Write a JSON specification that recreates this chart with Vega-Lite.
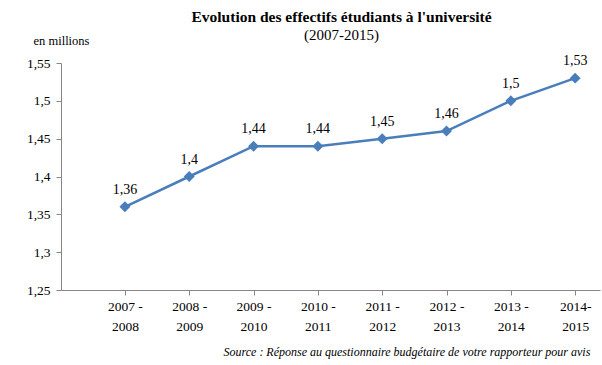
{
  "$schema": "https://vega.github.io/schema/vega-lite/v6.json",
  "width": 539,
  "height": 227,
  "autosize": {"type": "none"},
  "padding": {"left": 61, "top": 63, "right": 2, "bottom": 75},
  "background": "white",
  "config": {
    "locale": {"number": {"decimal": ",", "thousands": " ", "grouping": [3], "currency": ["", " €"]}},
    "view": {"stroke": null},
    "font": "Liberation Serif"
  },
  "title": {
    "text": "Evolution des effectifs étudiants à l'université",
    "subtitle": "(2007-2015)",
    "font": "Liberation Serif",
    "fontSize": 15.5,
    "fontWeight": "bold",
    "subtitleFont": "Liberation Serif",
    "subtitleFontSize": 15,
    "subtitlePadding": 3,
    "color": "#000000",
    "subtitleColor": "#000000",
    "anchor": "middle",
    "dx": 11,
    "offset": -9
  },
  "data": {
    "values": [
      {"period": "2007 - 2008", "value": 1.36},
      {"period": "2008 - 2009", "value": 1.40},
      {"period": "2009 - 2010", "value": 1.44},
      {"period": "2010 - 2011", "value": 1.44},
      {"period": "2011 - 2012", "value": 1.45},
      {"period": "2012 - 2013", "value": 1.46},
      {"period": "2013 - 2014", "value": 1.50},
      {"period": "2014-2015", "value": 1.53}
    ]
  },
  "encoding": {
    "x": {
      "field": "period",
      "type": "ordinal",
      "sort": null,
      "scale": {"type": "point", "padding": 0.69, "align": 0.72},
      "axis": {
        "title": "Source : Réponse au questionnaire budgétaire de votre rapporteur pour avis",
        "titleFont": "Liberation Serif",
        "titleFontStyle": "italic",
        "titleFontWeight": "normal",
        "titleFontSize": 12,
        "titleColor": "#000000",
        "titleAnchor": "start",
        "titleAlign": "left",
        "titleX": 162,
        "titleY": 56,
        "labelAngle": 0,
        "labelExpr": "split(replace(datum.value, /-\\s?/, '-|'), '|')",
        "labelFont": "Liberation Serif",
        "labelFontSize": 13.5,
        "labelColor": "#000000",
        "labelLineHeight": 20,
        "labelPadding": 4,
        "domainColor": "#868686",
        "domainWidth": 1,
        "tickColor": "#868686",
        "tickSize": 5
      }
    },
    "y": {
      "field": "value",
      "type": "quantitative",
      "scale": {"domain": [1.25, 1.55], "nice": false, "zero": false},
      "axis": {
        "title": "en millions",
        "titleAngle": 0,
        "titleAlign": "center",
        "titleBaseline": "bottom",
        "titleX": 0,
        "titleY": -16,
        "titleFont": "Liberation Serif",
        "titleFontWeight": "normal",
        "titleFontSize": 12.5,
        "titleColor": "#000000",
        "values": [1.25, 1.3, 1.35, 1.4, 1.45, 1.5, 1.55],
        "format": ".2~f",
        "labelFont": "Liberation Serif",
        "labelFontSize": 13.5,
        "labelColor": "#000000",
        "labelPadding": 6,
        "grid": false,
        "domainColor": "#868686",
        "tickColor": "#868686",
        "tickSize": 5
      }
    }
  },
  "layer": [
    {
      "mark": {"type": "line", "color": "#4a7ebb", "strokeWidth": 2.5}
    },
    {
      "mark": {"type": "point", "shape": "diamond", "filled": true, "color": "#4a7ebb", "size": 120, "opacity": 1}
    },
    {
      "mark": {"type": "text", "dy": -17, "fontSize": 14, "font": "Liberation Serif", "color": "#000000"},
      "encoding": {"text": {"field": "value", "type": "quantitative", "format": ".2~f"}}
    }
  ]
}
